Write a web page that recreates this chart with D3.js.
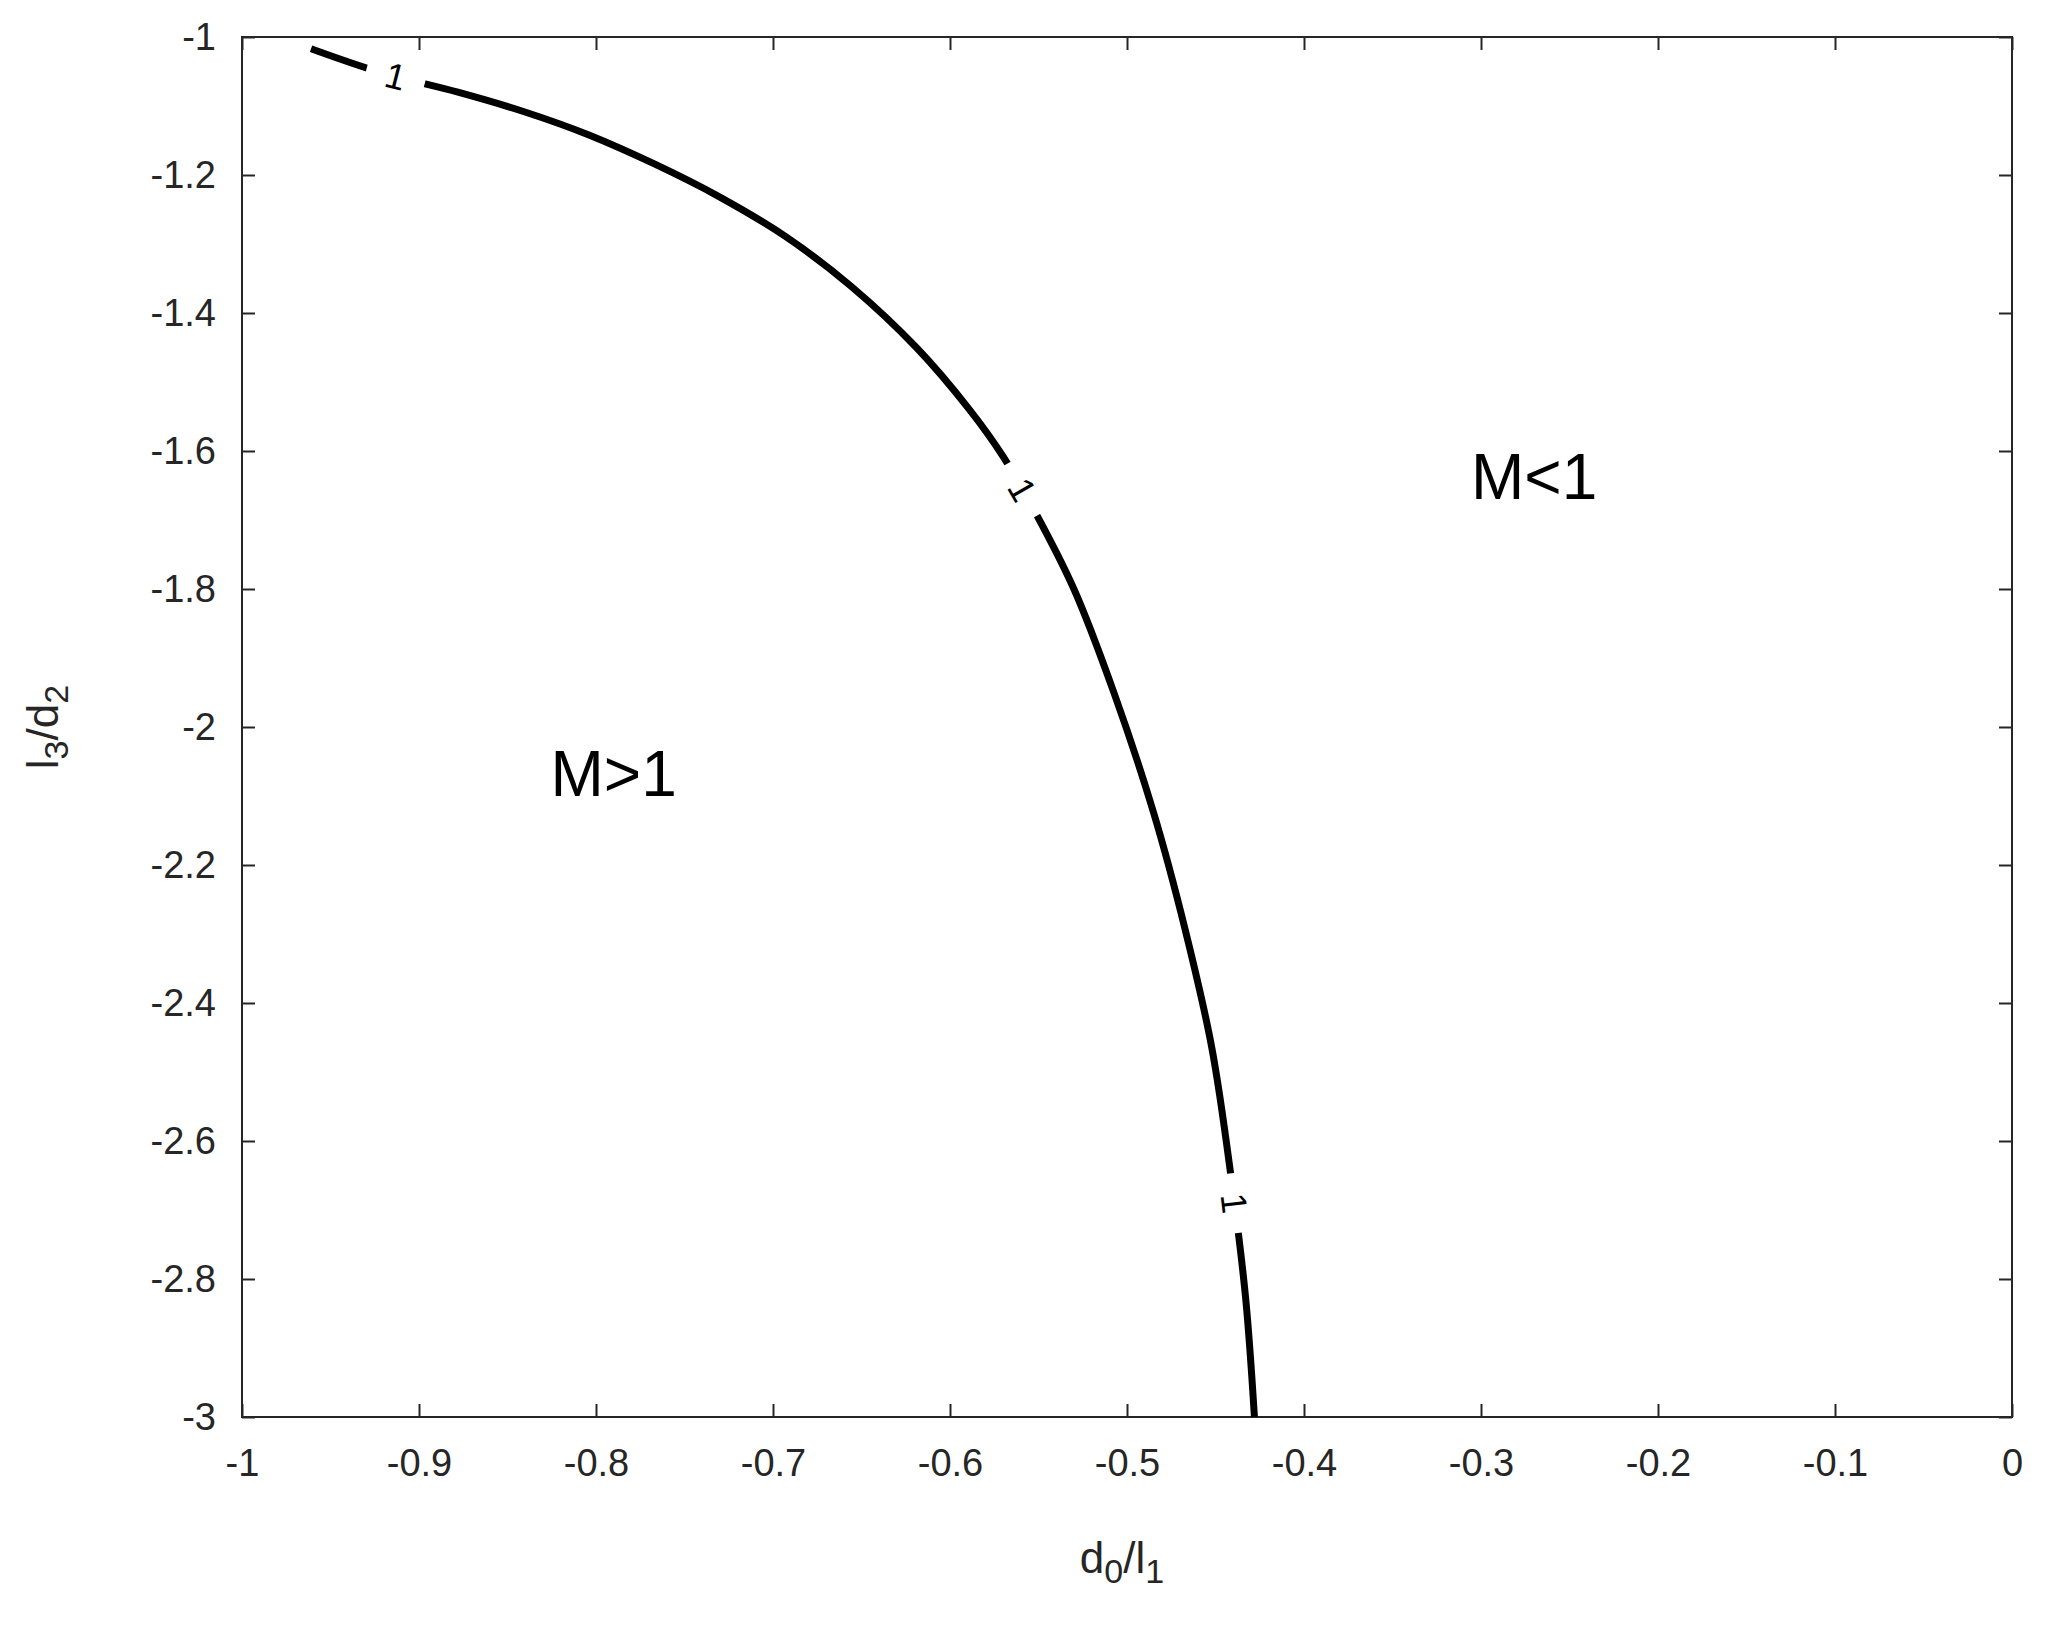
<!DOCTYPE html>
<html><head><meta charset="utf-8">
<script src="https://cdn.jsdelivr.net/npm/d3@7"></script>
<style>body{margin:0;background:#fff}svg{font-family:"Liberation Sans",Arial,sans-serif}</style>
</head><body>
<svg id="c" width="2045" height="1626"></svg>
<script>
const curveX = [-0.961,-0.922,-0.878,-0.841,-0.804,-0.767,-0.730,-0.693,-0.656,-0.619,-0.589,-0.570,-0.552,-0.530,-0.507,-0.485,-0.467,-0.452,-0.441,-0.433,-0.428];
const curveY = [-1.017,-1.051,-1.080,-1.108,-1.142,-1.184,-1.232,-1.289,-1.361,-1.450,-1.540,-1.608,-1.688,-1.800,-1.953,-2.124,-2.295,-2.466,-2.656,-2.827,-3.000];
const labelIdx = [1.2, 11.6, 18.2];
const xTicks = [-1,-0.9,-0.8,-0.7,-0.6,-0.5,-0.4,-0.3,-0.2,-0.1,0];
const yTicks = [-1,-1.2,-1.4,-1.6,-1.8,-2,-2.2,-2.4,-2.6,-2.8,-3];
const regions = [{t:"M>1",x:-0.79,y:-2.1},{t:"M<1",x:-0.27,y:-1.67}];

const L=242,R=2012,T=37,B=1417;
const svg=d3.select("#c");
const x=d3.scaleLinear().domain([-1,0]).range([L,R]);
const y=d3.scaleLinear().domain([-1,-3]).range([T,B]);
const fmt=d=>String(d);
const col="#262626", tl=13;
const ax=(g,a)=>g.call(a).call(s=>s.select(".domain").remove()).call(s=>s.selectAll("line").attr("stroke",col).attr("stroke-width",2)).call(s=>s.selectAll("text").attr("fill",col).attr("font-size",38));
ax(svg.append("g").attr("transform",`translate(0,${B})`),d3.axisBottom(x).tickValues(xTicks).tickFormat(fmt).tickSizeInner(-tl).tickPadding(32));
ax(svg.append("g").attr("transform",`translate(0,${T})`),d3.axisTop(x).tickValues(xTicks).tickFormat("").tickSizeInner(-tl));
ax(svg.append("g").attr("transform",`translate(${L},0)`),d3.axisLeft(y).tickValues(yTicks).tickFormat(fmt).tickSizeInner(-tl).tickPadding(26));
ax(svg.append("g").attr("transform",`translate(${R},0)`),d3.axisRight(y).tickValues(yTicks).tickFormat("").tickSizeInner(-tl));
svg.append("rect").attr("x",L).attr("y",T).attr("width",R-L).attr("height",B-T).attr("fill","none").attr("stroke",col).attr("stroke-width",2);

const pts=curveX.map((v,i)=>[v,curveY[i]]);
svg.append("path").datum(pts).attr("d",d3.line().x(d=>x(d[0])).y(d=>y(d[1])).curve(d3.curveCatmullRom)).attr("fill","none").attr("stroke","#000").attr("stroke-width",7);

labelIdx.forEach(f=>{
  const i=Math.floor(f), t=f-i;
  const px=x(curveX[i]+(curveX[i+1]-curveX[i])*t), py=y(curveY[i]+(curveY[i+1]-curveY[i])*t);
  const ang=Math.atan2(y(curveY[i+1])-y(curveY[i]),x(curveX[i+1])-x(curveX[i]))*180/Math.PI;
  const g=svg.append("g").attr("transform",`translate(${px},${py}) rotate(${ang})`);
  g.append("rect").attr("x",-30).attr("y",-14).attr("width",60).attr("height",28).attr("fill","#fff");
  g.append("text").attr("text-anchor","middle").attr("dy","0.35em").attr("font-size",36).attr("fill","#000").attr("transform","rotate(0)").text("1");
});

regions.forEach(r=>svg.append("text").attr("x",x(r.x)).attr("y",y(r.y)).attr("text-anchor","middle").attr("font-size",64).attr("fill","#000").text(r.t));

svg.append("text").attr("x",(L+R)/2-5).attr("y",1573).attr("text-anchor","middle").attr("font-size",44).attr("fill",col)
  .html('d<tspan baseline-shift="-30%" font-size="34">0</tspan>/l<tspan baseline-shift="-30%" font-size="34">1</tspan>');
svg.append("text").attr("transform",`translate(58,${(T+B)/2}) rotate(-90)`).attr("text-anchor","middle").attr("font-size",44).attr("fill",col)
  .html('l<tspan baseline-shift="-30%" font-size="34">3</tspan>/d<tspan baseline-shift="-30%" font-size="34">2</tspan>');
</script></body></html>
